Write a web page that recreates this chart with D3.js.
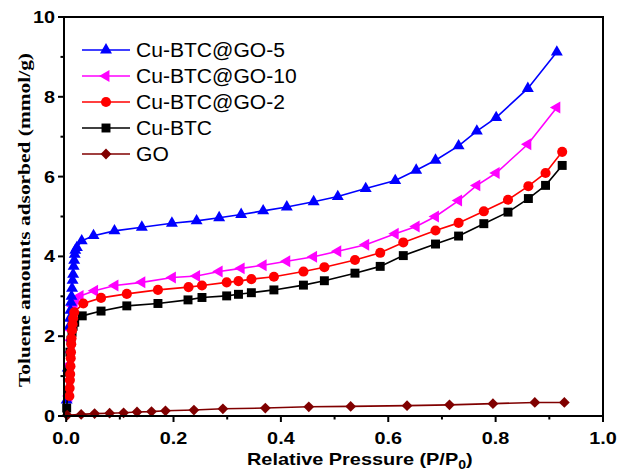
<!DOCTYPE html>
<html>

<head>
    <title>Toluene adsorption isotherms</title>
    <script src="https://cdnjs.cloudflare.com/ajax/libs/d3/7.8.5/d3.min.js"></script>
    <style>
        body { margin: 0; background: #fff; }
        .frame { fill: none; stroke: #000; stroke-width: 2; }
        .tick-label { font-family: "Liberation Sans", Arial, sans-serif; font-weight: bold; font-size: 16.5px; }
        .legend-text { font-family: "Liberation Sans", Arial, sans-serif; font-size: 19.5px; }
    </style>
</head>

<body>
    <div id="chart"></div>
    <script>
        // Series (P/P0, mmol/g)
        const seriesNames = ["Cu-BTC@GO-5", "Cu-BTC@GO-10", "Cu-BTC@GO-2", "Cu-BTC", "GO"];

        const go5P = [0.001, 0.003, 0.006, 0.007, 0.008, 0.009, 0.010, 0.011, 0.012, 0.013, 0.014, 0.015, 0.016, 0.017, 0.020, 0.029, 0.051, 0.090, 0.141, 0.197, 0.243, 0.285, 0.326, 0.367, 0.411, 0.461, 0.506, 0.558, 0.613, 0.652, 0.688, 0.731, 0.765, 0.801, 0.860, 0.914];
        const go5V = [0.4, 1.2, 2.25, 2.45, 2.65, 2.85, 3.0, 3.2, 3.4, 3.55, 3.75, 3.9, 4.05, 4.15, 4.22, 4.39, 4.52, 4.64, 4.73, 4.83, 4.89, 4.97, 5.05, 5.14, 5.24, 5.37, 5.50, 5.70, 5.90, 6.16, 6.41, 6.77, 7.14, 7.48, 8.21, 9.12];

        const go10P = [0.005, 0.006, 0.007, 0.008, 0.009, 0.010, 0.011, 0.012, 0.013, 0.015, 0.018, 0.026, 0.053, 0.091, 0.141, 0.198, 0.243, 0.285, 0.326, 0.367, 0.411, 0.461, 0.506, 0.558, 0.613, 0.652, 0.688, 0.731, 0.765, 0.801, 0.860, 0.914];
        const go10V = [0.5, 0.9, 1.3, 1.6, 1.9, 2.15, 2.4, 2.6, 2.75, 2.85, 2.93, 3.01, 3.14, 3.27, 3.35, 3.47, 3.51, 3.62, 3.70, 3.78, 3.88, 3.99, 4.13, 4.29, 4.57, 4.75, 5.00, 5.40, 5.78, 6.09, 6.81, 7.73];

        const go2P = [0.006, 0.0065, 0.007, 0.0075, 0.008, 0.0085, 0.009, 0.0095, 0.010, 0.011, 0.012, 0.013, 0.015, 0.032, 0.065, 0.113, 0.171, 0.228, 0.253, 0.299, 0.321, 0.345, 0.387, 0.442, 0.481, 0.538, 0.585, 0.628, 0.688, 0.731, 0.778, 0.823, 0.861, 0.893, 0.924];
        const go2V = [0.5, 0.7, 0.9, 1.05, 1.25, 1.45, 1.6, 1.8, 1.95, 2.15, 2.3, 2.45, 2.6, 2.82, 2.96, 3.06, 3.16, 3.23, 3.27, 3.35, 3.38, 3.43, 3.49, 3.62, 3.73, 3.91, 4.09, 4.35, 4.65, 4.84, 5.13, 5.42, 5.76, 6.09, 6.62];

        const btcP = [0.001, 0.003, 0.005, 0.007, 0.009, 0.011, 0.013, 0.016, 0.030, 0.065, 0.113, 0.171, 0.227, 0.253, 0.299, 0.321, 0.345, 0.387, 0.442, 0.481, 0.538, 0.585, 0.628, 0.688, 0.731, 0.778, 0.823, 0.861, 0.893, 0.924];
        const btcV = [0.2, 0.6, 1.1, 1.6, 1.9, 2.1, 2.25, 2.35, 2.51, 2.63, 2.76, 2.82, 2.91, 2.97, 3.01, 3.05, 3.09, 3.16, 3.28, 3.39, 3.58, 3.75, 4.02, 4.31, 4.51, 4.82, 5.11, 5.45, 5.78, 6.28];

        const goP = [0.002, 0.028, 0.053, 0.081, 0.107, 0.132, 0.159, 0.185, 0.238, 0.292, 0.371, 0.452, 0.530, 0.635, 0.714, 0.795, 0.873, 0.928];
        const goV = [0.02, 0.04, 0.06, 0.07, 0.08, 0.10, 0.11, 0.13, 0.15, 0.18, 0.20, 0.23, 0.24, 0.26, 0.28, 0.31, 0.34, 0.34];

        const xTicks = [0, 0.2, 0.4, 0.6, 0.8, 1.0];
        const yTicks = [0, 2, 4, 6, 8, 10];

        const width = 618, height = 473;
        const svg = d3.select("#chart").append("svg")
            .attr("width", width)
            .attr("height", height);

        const x = d3.scaleLinear().domain([-0.004, 1]).range([64, 603]);
        const y = d3.scaleLinear().domain([0, 10]).range([416, 17]);

        // marker shapes
        const tri = d3.symbol().type(d3.symbolTriangle).size(62)();
        const circ = d3.symbol().type(d3.symbolCircle).size(80)();
        const sq = d3.symbol().type(d3.symbolSquare).size(80)();
        const dia = d3.symbol().type(d3.symbolSquare).size(58)();

        const series = [
            { name: seriesNames[1], p: go10P, v: go10V, color: "#ff00ff", shape: tri, rot: -90 },
            { name: seriesNames[0], p: go5P, v: go5V, color: "#0000ff", shape: tri, rot: 0 },
            { name: seriesNames[3], p: btcP, v: btcV, color: "#000000", shape: sq, rot: 0 },
            { name: seriesNames[2], p: go2P, v: go2V, color: "#ff0000", shape: circ, rot: 0 },
            { name: seriesNames[4], p: goP, v: goV, color: "#800000", shape: dia, rot: 45 }
        ];

        const line = d3.line().x(d => x(d[0])).y(d => y(d[1]));

        series.forEach(s => {
            const pts = s.p.map((p, i) => [p, s.v[i]]);
            svg.append("path")
                .attr("d", line(pts))
                .attr("fill", "none")
                .attr("stroke", s.color)
                .attr("stroke-width", 1.6);
            svg.append("g").selectAll("path")
                .data(pts)
                .enter()
                .append("path")
                .attr("d", s.shape)
                .attr("transform", d => `translate(${x(d[0])},${y(d[1])}) rotate(${s.rot})`)
                .attr("fill", s.color);
        });

        // axes (ticks outward on left and bottom)
        const xAxis = svg.append("g");
        d3.range(0, 1.001, 0.1).forEach((t, i) => {
            xAxis.append("line")
                .attr("x1", x(t)).attr("x2", x(t))
                .attr("y1", 416).attr("y2", 416 + (i % 2 === 0 ? 6 : 3.5))
                .attr("stroke", "#000").attr("stroke-width", 2);
        });
        xTicks.forEach(t => {
            xAxis.append("text")
                .attr("class", "tick-label")
                .attr("x", x(t)).attr("y", 444)
                .attr("text-anchor", "middle")
                .text(t.toFixed(1));
        });

        const yAxis = svg.append("g");
        d3.range(0, 10.001, 1).forEach((t, i) => {
            yAxis.append("line")
                .attr("x1", 64).attr("x2", 64 - (i % 2 === 0 ? 6 : 3.5))
                .attr("y1", y(t)).attr("y2", y(t))
                .attr("stroke", "#000").attr("stroke-width", 2);
        });
        yTicks.forEach(t => {
            yAxis.append("text")
                .attr("class", "tick-label")
                .attr("x", 55).attr("y", y(t) + 6)
                .attr("text-anchor", "end")
                .text(t);
        });

        svg.append("rect")
            .attr("class", "frame")
            .attr("x", 64).attr("y", 17)
            .attr("width", 603 - 64).attr("height", 416 - 17);

        // stretch text horizontally a little, like the source figure
        svg.selectAll(".tick-label").each(function () {
            const len = this.getComputedTextLength();
            d3.select(this).attr("textLength", len * 1.2).attr("lengthAdjust", "spacingAndGlyphs");
        });

        // axis titles
        const xt = svg.append("text")
            .attr("x", 247).attr("y", 465)
            .style("font-family", "'Liberation Sans', Arial, sans-serif")
            .style("font-weight", "bold")
            .style("font-size", "17px");
        xt.append("tspan").text("Relative Pressure (P/P");
        xt.append("tspan").attr("dy", 4).style("font-size", "12px").text("0");
        xt.append("tspan").attr("dy", -4).text(")");
        const xtLen = xt.node().getComputedTextLength();
        xt.attr("textLength", xtLen * 1.17).attr("lengthAdjust", "spacingAndGlyphs");

        svg.append("text")
            .attr("transform", "translate(30,220) rotate(-90)")
            .attr("text-anchor", "middle")
            .style("font-family", "'Liberation Serif', 'Times New Roman', serif")
            .style("font-weight", "bold")
            .style("font-size", "17px")
            .attr("textLength", 334)
            .attr("lengthAdjust", "spacingAndGlyphs")
            .text("Toluene amounts adsorbed (mmol/g)");

        // legend
        const legend = [
            { name: seriesNames[0], color: "#0000ff", shape: tri, rot: 0 },
            { name: seriesNames[1], color: "#ff00ff", shape: tri, rot: -90 },
            { name: seriesNames[2], color: "#ff0000", shape: circ, rot: 0 },
            { name: seriesNames[3], color: "#000000", shape: sq, rot: 0 },
            { name: seriesNames[4], color: "#800000", shape: dia, rot: 45 }
        ];
        const lg = svg.append("g");
        legend.forEach((d, i) => {
            const ly = 50 + i * 26;
            lg.append("line")
                .attr("x1", 82).attr("x2", 130)
                .attr("y1", ly).attr("y2", ly)
                .attr("stroke", d.color).attr("stroke-width", 1.6);
            lg.append("path")
                .attr("d", d.shape)
                .attr("transform", `translate(106,${ly}) rotate(${d.rot})`)
                .attr("fill", d.color);
            const t = lg.append("text")
                .attr("class", "legend-text")
                .attr("x", 136).attr("y", ly + 7)
                .text(d.name);
            const len = t.node().getComputedTextLength();
            t.attr("textLength", len * 1.08).attr("lengthAdjust", "spacingAndGlyphs");
        });
    </script>
</body>

</html>
